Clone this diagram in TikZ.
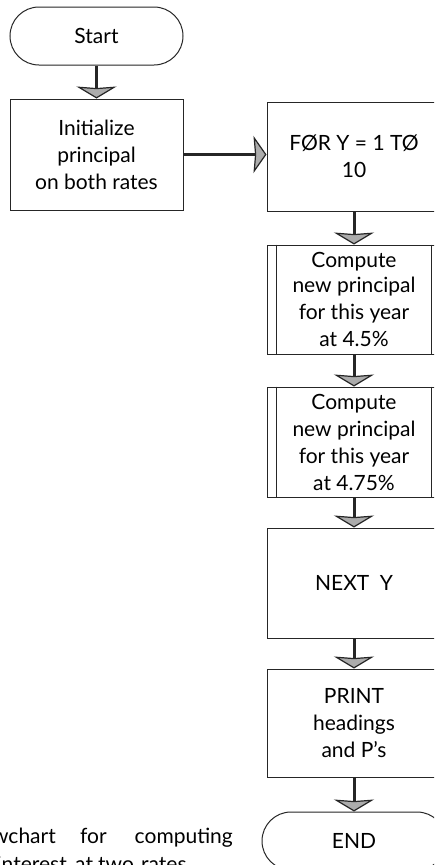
\documentclass[tikz,border=0pt]{standalone}
\usepackage{fontspec}
\setmainfont{Lato}
\usetikzlibrary{arrows.meta,shapes.misc}
\begin{document}
\begin{tikzpicture}[x=1pt,y=-1pt,
  box/.style={draw=black!85, line width=1pt, rectangle, align=center, inner sep=0pt,
    font=\fontsize{21}{27}\selectfont},
  term/.style={box, rounded rectangle},
  flowv/.style={draw=black!85, line width=3pt,
    -{Stealth[width=40pt,length=12pt,inset=1.5pt,line width=1.2pt,fill=gray!65,color=black!85]}},
  flowh/.style={draw=black!85, line width=3pt,
    -{Stealth[width=37pt,length=13pt,inset=1.5pt,line width=1.2pt,fill=gray!65,color=black!85]}},
  captext/.style={inner sep=0pt, font=\fontsize{21}{27}\selectfont}
]
\useasboundingbox (0,0) rectangle (434,865);
\clip (0,0) rectangle (434,865);
\fill[white] (0,0) rectangle (434,865);

\node[term, minimum width=173pt, minimum height=58pt] (start) at (96.5,36) {\raisebox{-1pt}{Start}};
\node[box, minimum width=173pt, minimum height=111pt] (init) at (96.5,154.5) {Initialize\\principal\\on both rates};
\node[box, minimum width=174pt, minimum height=109pt] (for) at (354,156.5) {FØR Y = 1 TØ\\10};
\node[box, minimum width=174pt, minimum height=109pt] (c1) at (354,299.5) {\raisebox{-2pt}{Compute}\\new principal\\for this year\\at 4.5\%};
\node[box, minimum width=174pt, minimum height=110pt] (c2) at (354,442) {Compute\\new principal\\for this year\\at 4.75\%};
\node[box, minimum width=174pt, minimum height=110pt] (next) at (354,583) {NEXT\enspace Y};
\node[box, minimum width=174pt, minimum height=108pt] (print) at (354,723) {PRINT\\headings\\and P’s};
\node[term, minimum width=184pt, minimum height=58pt] (end) at (354,841) {END};

\foreach \n in {c1,c2}{
  \draw[line width=1pt, black!85] ([xshift=10pt]\n.north west) -- ([xshift=10pt]\n.south west);
  \draw[line width=1pt, black!85] ([xshift=-10pt]\n.north east) -- ([xshift=-10pt]\n.south east);
}

\draw[flowv] (start.south) -- (init.north);
\draw[flowh] (init.east) -- (init.east -| for.west);
\draw[flowv] (for.south) -- (c1.north);
\draw[flowv] (c1.south) -- (c2.north);
\draw[flowv] (c2.south) -- (next.north);
\draw[flowv] (next.south) -- (print.north);
\draw[flowv] (print.south) -- (end.north);

\node[captext, anchor=base east] (w1) at (56,843) {Flowchart};
\node[captext, anchor=base west] (w2) at (80,843) {for};
\node[captext, anchor=base east] (w3) at (233,843) {computing};
\node[captext, anchor=base east] (w4) at (67,871) {interest};
\node[captext, anchor=base west] (w5) at (75,871) {at};
\node[captext, anchor=base west] (w6) at (98,871) {two};
\node[captext, anchor=base west] (w7) at (141,871) {rates.};
\end{tikzpicture}
\end{document}
